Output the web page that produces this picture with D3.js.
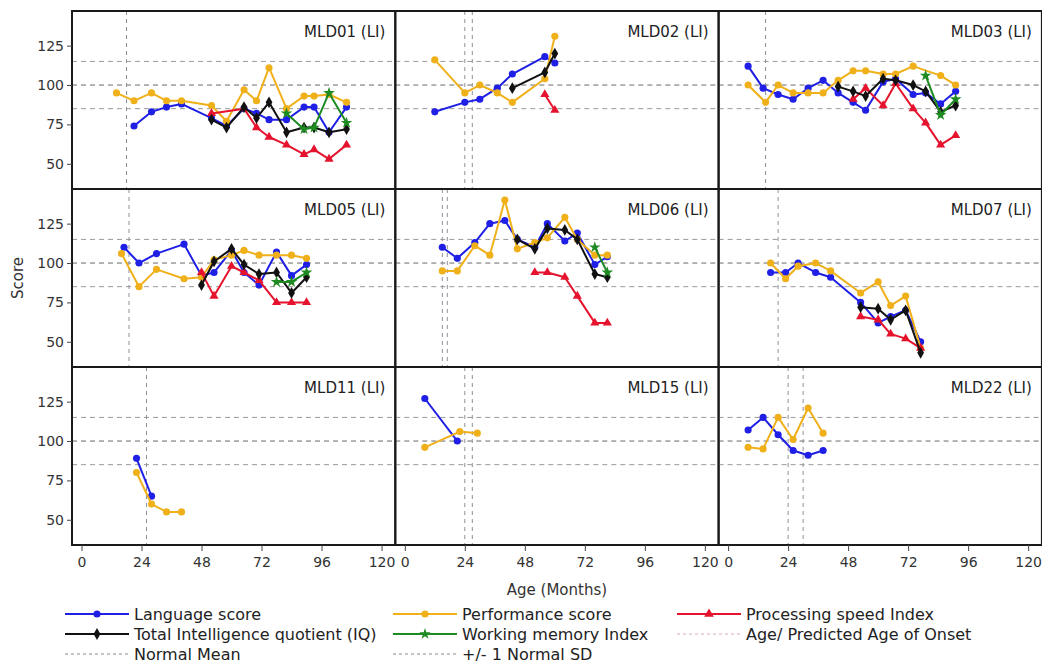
<!DOCTYPE html>
<html>
<head>
<meta charset="utf-8">
<script src="https://cdn.jsdelivr.net/npm/d3@7"></script>
<style>
  body { margin: 0; background: #fff; }
  svg { font-family: "DejaVu Sans", sans-serif; }
</style>
</head>
<body>
<div id="chart"></div>
<script>
// panels (subject ids) in reading order, 3 x 3
const panels = ["MLD01 (LI)", "MLD02 (LI)", "MLD03 (LI)", "MLD05 (LI)", "MLD06 (LI)", "MLD07 (LI)", "MLD11 (LI)", "MLD15 (LI)", "MLD22 (LI)"];
// age / predicted age of onset (months)
const onset = [[18], [24, 27], [15], [19], [15, 17], [20], [26], [24, 27], [24, 30]];

// [age in months, score] per panel
const language = [
  [[21,74],[28,83],[34,86],[40,88],[52,79],[58,74],[65,85],[70,82],[75,78],[82,78],[89,86],[93,86],[99,70],[106,86]],
  [[12,83],[24,89],[30,91],[37,98],[43,107],[56,118],[60,114]],
  [[8,112],[14,98],[20,94],[26,91],[32,98],[38,103],[44,95],[50,89],[55,84],[62,102],[67,104],[74,94],[79,95],[85,88],[91,96]],
  [[17,110],[23,100],[30,106],[41,112],[48,92],[53,94],[60,108],[65,94],[71,86],[78,107],[84,92],[90,99]],
  [[15,110],[21,103],[28,113],[34,125],[40,127],[45,115],[52,110],[57,125],[64,114],[69,119],[76,99],[81,104]],
  [[17,94],[23,94],[28,100],[35,94],[41,91],[53,75],[60,62],[65,66],[71,70],[77,50]],
  [[22,89],[28,65]],
  [[8,127],[21,100]],
  [[8,107],[14,115],[20,104],[26,94],[32,91],[38,94]]
];
const performance = [
  [[14,95],[21,90],[28,95],[34,90],[40,90],[52,87],[58,77],[65,97],[70,90],[75,111],[82,85],[89,93],[93,93],[99,94],[106,89]],
  [[12,116],[24,95],[30,100],[37,95],[43,89],[56,104],[60,131]],
  [[8,100],[15,89],[20,100],[26,95],[32,95],[38,95],[44,103],[50,109],[55,109],[62,107],[67,107],[74,112],[85,106],[91,100]],
  [[16,106],[23,85],[30,96],[41,90],[48,91],[53,102],[60,105],[65,108],[71,105],[78,105],[84,105],[90,103]],
  [[15,95],[21,95],[28,111],[34,105],[40,140],[45,109],[52,113],[57,116],[64,129],[69,115],[76,105],[81,105]],
  [[17,100],[23,90],[28,98],[35,100],[41,95],[53,81],[60,88],[65,73],[71,79],[77,46]],
  [[22,80],[28,60],[34,55],[40,55]],
  [[8,96],[22,106],[29,105]],
  [[8,96],[14,95],[20,115],[26,101],[32,121],[38,105]]
];
const processing = [
  [[52,82],[65,85],[70,73],[75,67],[82,62],[89,56],[93,59],[99,53],[106,62]],
  [[56,94],[60,84]],
  [[50,91],[55,98],[62,87],[67,101],[74,85],[79,76],[85,62],[91,68]],
  [[48,94],[53,79],[60,98],[65,94],[71,89],[78,75],[84,75],[90,75]],
  [[52,94],[57,94],[64,91],[69,79],[76,62],[81,62]],
  [[53,66],[60,64],[65,55],[71,52],[77,46]],
  [], [], []
];
const iq = [
  [[52,78],[58,73],[65,86],[70,79],[75,89],[82,70],[89,73],[93,73],[99,70],[106,72]],
  [[43,98],[56,108],[60,120]],
  [[44,99],[50,96],[55,93],[62,104],[67,103],[74,100],[79,96],[85,83],[91,87]],
  [[48,86],[53,101],[60,109],[65,99],[71,93],[78,94],[84,81],[90,91]],
  [[45,115],[52,109],[57,122],[64,121],[69,115],[76,93],[81,91]],
  [[53,72],[60,71],[65,64],[71,70],[77,43]],
  [], [], []
];
const working = [
  [[82,82],[89,72],[93,73],[99,95],[106,76]],
  [],
  [[79,106],[85,81],[91,91]],
  [[78,88],[84,88],[90,94]],
  [[76,110],[81,94]],
  [], [], [], []
];

const xTicks = [0, 24, 48, 72, 96, 120];
const yTicks = [50, 75, 100, 125];
const normalMean = 100, normalSD = 15;

const series = [
  { name: "Language score", data: language, color: "#1f1fe6", symbol: d3.symbolCircle, size: 40 },
  { name: "Performance score", data: performance, color: "#f0b01a", symbol: d3.symbolCircle, size: 40 },
  { name: "Processing speed Index", data: processing, color: "#e5132d", symbol: d3.symbolTriangle, size: 36 },
  { name: "Total Intelligence quotient (IQ)", data: iq, color: "#111111", symbol: d3.symbolDiamond, size: 40 },
  { name: "Working memory Index", data: working, color: "#1e8a22", symbol: d3.symbolStar, size: 42 }
];

var width = 1042, height = 663,
    plotLeft = 72, plotTop = 11,
    colW = 323.3, rowH = 178;

var svg = d3.select("#chart").append("svg")
    .attr("width", width)
    .attr("height", height);

var defs = svg.append("defs");

panels.forEach(function (title, i) {
  var c = i % 3, r = Math.floor(i / 3);
  var x0 = plotLeft + c * colW, y0 = plotTop + r * rowH;
  var x = d3.scaleLinear().domain([-3.8, 125.5]).range([x0, x0 + colW]);
  var y = d3.scaleLinear().domain([34, 147]).range([y0 + rowH, y0]);

  defs.append("clipPath").attr("id", "clip" + i)
    .append("rect").attr("x", x0).attr("y", y0).attr("width", colW).attr("height", rowH);

  var g = svg.append("g").attr("clip-path", "url(#clip" + i + ")");

  // reference lines
  [normalMean - normalSD, normalMean + normalSD].forEach(function (v) {
    g.append("line")
      .attr("x1", x0).attr("x2", x0 + colW)
      .attr("y1", y(v)).attr("y2", y(v))
      .attr("stroke", "#9a9a9a").attr("stroke-width", 1)
      .attr("stroke-dasharray", "5,4");
  });
  g.append("line")
    .attr("x1", x0).attr("x2", x0 + colW)
    .attr("y1", y(normalMean)).attr("y2", y(normalMean))
    .attr("stroke", "#6a6a6a").attr("stroke-width", 1)
    .attr("stroke-dasharray", "5,4");

  onset[i].forEach(function (a) {
    g.append("line")
      .attr("x1", x(a)).attr("x2", x(a))
      .attr("y1", y0).attr("y2", y0 + rowH)
      .attr("stroke", "#8f8f9c").attr("stroke-width", 1)
      .attr("stroke-dasharray", "4,4");
  });

  var line = d3.line().x(d => x(d[0])).y(d => y(d[1]));

  series.forEach(function (s) {
    var pts = s.data[i];
    if (!pts.length) return;
    g.append("path")
      .datum(pts)
      .attr("fill", "none")
      .attr("stroke", s.color)
      .attr("stroke-width", 2)
      .attr("stroke-linejoin", "round")
      .attr("d", line);
    g.selectAll(null)
      .data(pts)
      .enter().append("path")
      .attr("transform", d => "translate(" + x(d[0]) + "," + y(d[1]) + ")")
      .attr("d", d3.symbol().type(s.symbol).size(s.size))
      .attr("fill", s.color);
  });

  // panel title
  svg.append("text")
    .attr("x", x0 + colW - 10)
    .attr("y", y0 + 26)
    .attr("text-anchor", "end")
    .attr("font-size", 15)
    .attr("fill", "#222")
    .text(title);

  // panel frame
  svg.append("rect")
    .attr("x", x0).attr("y", y0)
    .attr("width", colW).attr("height", rowH)
    .attr("fill", "none")
    .attr("stroke", "#1a1a1a")
    .attr("stroke-width", 2);

  if (c === 0) {
    var ya = svg.append("g")
      .attr("transform", "translate(" + x0 + ",0)")
      .call(d3.axisLeft(y).tickValues(yTicks).tickSize(5).tickPadding(3));
    ya.select(".domain").remove();
    ya.selectAll("text").attr("font-size", 14).attr("fill", "#333").attr("font-family", "DejaVu Sans");
    ya.selectAll("line").attr("stroke", "#444");
  }
  if (r === 2) {
    var xa = svg.append("g")
      .attr("transform", "translate(0," + (y0 + rowH) + ")")
      .call(d3.axisBottom(x).tickValues(xTicks).tickSize(6).tickPadding(6));
    xa.select(".domain").remove();
    xa.selectAll("text").attr("font-size", 14).attr("fill", "#333").attr("font-family", "DejaVu Sans");
    xa.selectAll("line").attr("stroke", "#444");
  }
});

// axis titles
svg.append("text")
  .attr("x", plotLeft + 1.5 * colW)
  .attr("y", 595)
  .attr("text-anchor", "middle")
  .attr("font-size", 15)
  .attr("fill", "#333")
  .text("Age (Months)");

svg.append("text")
  .attr("transform", "translate(23," + (plotTop + 1.5 * rowH) + ") rotate(-90)")
  .attr("text-anchor", "middle")
  .attr("font-size", 15)
  .attr("fill", "#333")
  .text("Score");

// legend
var legendItems = [
  { name: "Language score", color: series[0].color, symbol: series[0].symbol, col: 0, row: 0 },
  { name: "Performance score", color: series[1].color, symbol: series[1].symbol, col: 1, row: 0 },
  { name: "Processing speed Index", color: series[2].color, symbol: series[2].symbol, col: 2, row: 0 },
  { name: "Total Intelligence quotient (IQ)", color: series[3].color, symbol: series[3].symbol, col: 0, row: 1 },
  { name: "Working memory Index", color: series[4].color, symbol: series[4].symbol, col: 1, row: 1 },
  { name: "Age/ Predicted Age of Onset", color: "#d8a8c0", dash: "3,3", col: 2, row: 1 },
  { name: "Normal Mean", color: "#8a8a8a", dash: "3,3", col: 0, row: 2 },
  { name: "+/- 1 Normal SD", color: "#8a8a8a", dash: "3,3", col: 1, row: 2 }
];
var legendX = [65, 393, 677], legendY = [614, 634, 654];

var lg = svg.append("g").selectAll("g")
  .data(legendItems)
  .enter().append("g")
  .attr("transform", d => "translate(" + legendX[d.col] + "," + legendY[d.row] + ")");

lg.append("line")
  .attr("x1", 0).attr("x2", 64)
  .attr("stroke", d => d.color)
  .attr("stroke-width", d => d.dash ? 1 : 2)
  .attr("stroke-dasharray", d => d.dash || null);

lg.filter(d => d.symbol).append("path")
  .attr("transform", "translate(32,0)")
  .attr("d", d => d3.symbol().type(d.symbol).size(40)())
  .attr("fill", d => d.color);

lg.append("text")
  .attr("x", 69)
  .attr("y", 5.5)
  .attr("font-size", 16)
  .attr("fill", "#222")
  .text(d => d.name);
</script>
</body>
</html>
